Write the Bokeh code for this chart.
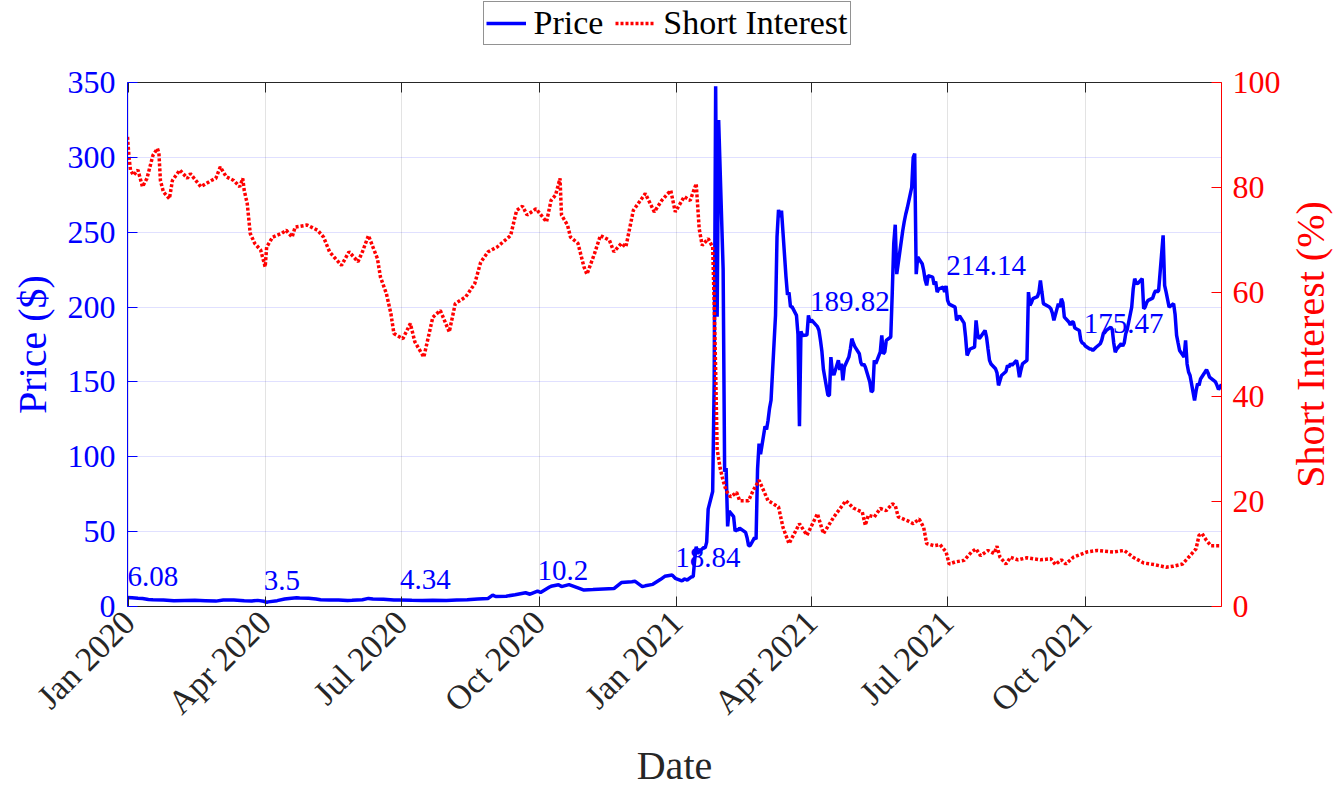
import pandas as pd
from math import pi
from bokeh.plotting import figure
from bokeh.layouts import column, row
from bokeh.models import (Range1d, LinearAxis, DatetimeAxis, FixedTicker,
                          DatetimeTickFormatter, Legend, LegendItem, Label)
from bokeh.embed import file_html
from bokeh.resources import INLINE
from bokeh.core.properties import value

FONT = "Liberation Serif"
START = "2019-12-31"          # day 0 of the day offsets below
END_DAY = 731                 # 2021-12-31

# ---- GME closing price ($), day offsets from START ----
price_day = [
    0, 3, 7, 10, 14, 17, 24, 31, 38, 45, 52, 59, 64, 71, 78, 83, 87, 91, 93, 94,
    100, 105, 108, 113, 115, 121, 126, 129, 135, 141, 147, 150, 157, 161, 164, 171, 178, 182,
    190, 197, 204, 213, 220, 227, 234, 241, 244, 246, 253, 259, 266, 269, 274, 276, 282, 283,
    288, 290, 295, 301, 305, 311, 318, 325, 330, 337, 339, 344, 346, 351, 356, 359, 364, 366,
    370, 371, 372, 373, 374, 377, 378, 379, 380, 381, 385, 386, 387, 388, 391, 392, 393, 394, 395,
    398, 399, 400, 401, 402, 405, 406, 407, 408, 409, 413, 414, 415, 416, 419, 420, 421, 422, 423,
    426, 427, 428, 429, 430, 433, 434, 435, 436, 437, 440, 441, 442, 443, 444, 447, 448, 449, 450,
    451, 454, 455, 456,
    457, 461, 462, 463, 464, 465, 468, 469, 470, 471, 472, 475, 476, 477, 478, 479, 482, 483, 484,
    485, 486, 489, 490, 491, 492, 493, 496, 497, 498, 499, 500, 503, 504, 505, 506, 507, 510, 511,
    512, 513, 514, 518, 519, 520, 521, 524, 525, 526, 527, 528, 531, 532, 533, 534, 535, 538, 539,
    540, 541, 542, 545, 546, 547,
    548, 549, 553, 554, 555, 556, 559, 560, 561, 562, 563, 566, 567, 568, 569, 570, 573, 574, 575,
    576, 577, 580, 581, 582, 583, 584, 587, 588, 589, 590, 591, 594, 595, 596, 597, 598, 601, 602,
    603, 604, 605, 608, 609, 610, 611, 612, 616, 617, 618, 619, 622, 623, 624, 625, 626, 629, 630,
    631, 632, 633, 636, 637, 638, 639,
    640, 643, 644, 645, 646, 647, 650, 651, 652, 653, 654, 657, 658, 659, 660, 661, 664, 665, 666,
    667, 668, 671, 672, 673, 674, 675, 678, 679, 680, 681, 682, 685, 686, 687, 688, 689, 692, 693,
    694, 696, 699, 700, 701, 702, 703, 706, 707, 708, 709, 710, 713, 714, 715, 716, 717, 720, 721,
    722, 723, 727, 728, 729, 730, 731,
]
price_usd = [
    6.08, 5.88, 5.52, 5.3, 4.65, 4.47, 4.35, 3.85, 4.08, 4.2, 3.9, 3.6, 4.4, 4.3, 3.8, 3.6, 4.1, 3.5, 2.8, 3.09,
    3.9, 5.0, 5.4, 5.9, 5.7, 5.5, 5.0, 4.5, 4.3, 4.4, 4.0, 4.1, 4.5, 5.4, 5.0, 4.9, 4.3, 4.34,
    4.1, 4.0, 4.25, 4.01, 4.3, 4.5, 5.0, 5.4, 7.65, 6.7, 6.9, 7.8, 9.2, 8.2, 10.2, 9.36, 13.03, 13.49,
    14.5, 13.31, 14.6, 12.5, 11.0, 11.3, 11.7, 12.0, 16.0, 16.6, 16.9, 13.3, 13.8, 14.8, 18.0, 20.15, 20.99, 18.84,
    17.25, 17.37, 18.36, 18.08, 17.69, 19.94, 19.95, 31.40, 39.91, 35.50, 39.36, 39.12, 43.03, 65.01, 76.79, 147.98, 347.51, 193.60, 325.00,
    225.00, 90.00, 92.41, 53.50, 63.77, 60.00, 50.31, 51.20, 51.10, 52.40, 49.51, 45.94, 40.69, 40.59, 46.00, 44.97, 91.71, 108.73, 101.74,
    120.40, 118.18, 124.18, 132.35, 137.74, 194.50, 246.90, 265.00, 260.00, 264.50, 220.14, 208.17, 209.81, 200.27, 200.27, 194.49, 181.75, 120.34, 183.75,
    181.00, 181.30, 194.46, 189.82,
    191.45, 186.95, 184.50, 177.97, 170.26, 158.36, 141.09, 140.99, 166.53, 156.44, 154.69, 164.4, 158.0, 162.2, 151.0, 160.0, 166.6, 172.0, 178.9,
    176.0, 173.6, 168.8, 163.0, 161.0, 162.0, 159.9, 150.0, 143.2, 144.3, 164.4, 162.2, 170.0, 181.1, 168.8, 170.0, 177.7, 180.01, 209.43,
    242.56, 255.0, 222.0, 251.0, 257.0, 262.0, 266.0, 280.0, 300.0, 302.56, 222.0, 233.4, 229.0, 224.5, 218.0, 214.5, 221.0, 220.0, 215.0,
    217.0, 210.0, 212.0, 213.4, 210.0, 214.14,
    204.5, 202.0, 200.0, 191.1, 193.0, 194.0, 189.3, 180.0, 167.7, 170.0, 172.0, 173.3, 191.1, 182.0, 178.9, 180.0, 184.4, 180.0, 172.0,
    164.4, 162.0, 158.8, 156.0, 147.7, 151.0, 154.3, 157.0, 161.0, 160.0, 162.2, 161.0, 164.4, 160.0, 153.2, 158.0, 162.0, 164.4, 210.0,
    201.1, 203.0, 205.6, 207.0, 210.0, 217.8, 210.0, 202.3, 200.0, 198.9, 196.0, 191.1, 202.3, 200.0, 205.6, 203.0, 193.3, 190.0, 188.0,
    190.0, 190.0, 186.0, 184.4, 177.7, 176.0, 175.47,
    174.0, 172.0, 172.0, 171.0, 172.0, 173.0, 175.5, 178.0, 182.2, 183.0, 184.4, 186.6, 185.0, 176.0, 169.9, 172.0, 175.5, 174.0, 176.0,
    182.2, 185.0, 200.0, 212.0, 219.0, 216.0, 215.6, 219.0, 198.9, 200.0, 203.0, 204.5, 206.0, 209.0, 211.1, 210.0, 211.1, 247.9, 214.5,
    210.0, 200.0, 202.3, 195.0, 181.1, 176.0, 171.0, 166.6, 177.7, 162.0, 156.6, 154.3, 137.6, 144.0, 148.8, 147.7, 152.0, 156.6, 158.2,
    156.0, 153.2, 150.0, 147.7, 145.0, 146.5, 148.39,
]

# ---- Short interest (% of float), day offsets from START ----
si_day = [
    0, 1, 2, 4, 7, 10, 13, 17, 20, 21,
    22, 24, 28, 30, 35, 40, 42, 49, 56, 59,
    62, 66, 71, 75, 77, 78, 80, 82, 85, 89,
    92, 93, 97, 103, 106, 110, 112, 120, 127, 131,
    135, 138, 143, 148, 154, 157, 161, 164, 167, 169,
    173, 176, 178, 184, 189, 192, 198, 204, 209, 215,
    219, 226, 232, 236, 241, 247, 256, 260, 264, 267,
    273, 280, 283, 286, 289, 290, 294, 296, 301, 305,
    307, 312, 316, 322, 325, 330, 333, 338, 346, 352,
    357, 363, 366, 372, 376, 380, 382, 384, 388, 391,
    392, 393, 394, 396, 398, 400, 403, 407, 409, 415,
    418, 422, 428, 435, 438, 442, 449, 454, 461, 465,
    472, 480, 485, 491, 493, 495, 499, 503, 507, 511,
    513, 515, 521, 525, 529, 532, 534, 539, 543, 547,
    549, 553, 559, 564, 567, 570, 575, 579, 581, 583,
    587, 590, 595, 601, 610, 617, 620, 624, 627, 632,
    641, 648, 659, 666, 672, 679, 686, 694, 699, 705,
    710, 714, 716, 718, 721, 724, 731,
]
si_pct = [
    89.6, 85.8, 83.3, 82.3, 83.3, 80.1, 81.7, 86.1, 87.4, 86.5,
    81.3, 79.1, 77.8, 81.3, 83.3, 81.7, 82.6, 80.1, 81.3, 81.7,
    83.9, 82.0, 81.3, 80.1, 81.7, 79.4, 76.9, 71.2, 69.3, 68.0,
    64.8, 68.6, 70.5, 71.2, 71.8, 70.5, 72.4, 72.8, 71.8, 70.5,
    67.7, 66.7, 65.1, 67.7, 65.8, 67.7, 70.8, 68.6, 66.4, 62.9,
    59.7, 55.9, 52.1, 51.1, 54.0, 50.5, 47.6, 55.2, 56.5, 52.4,
    57.8, 59.1, 61.6, 65.7, 67.7, 68.6, 70.8, 75.6, 76.4, 74.7,
    75.9, 73.4, 77.5, 78.5, 81.7, 74.7, 72.8, 70.5, 69.3, 64.8,
    63.4, 67.3, 70.8, 69.9, 67.7, 69.3, 68.6, 75.6, 78.8, 75.3,
    77.5, 79.4, 75.3, 78.2, 77.5, 80.7, 72.1, 68.9, 70.2, 68.6,
    58.0, 45.0, 30.0, 26.4, 24.0, 22.1, 20.9, 21.8, 20.2, 20.2,
    22.1, 24.1, 20.2, 19.0, 15.1, 12.0, 15.8, 13.6, 17.7, 13.9,
    17.1, 20.2, 18.8, 18.0, 15.5, 17.4, 17.1, 18.7, 18.3, 19.6,
    19.3, 17.1, 16.4, 15.8, 16.7, 15.1, 12.0, 11.6, 11.8, 10.4,
    8.1, 8.5, 8.8, 10.4, 11.0, 9.7, 10.7, 10.1, 11.5, 9.4,
    8.1, 9.4, 8.9, 9.3, 8.9, 9.1, 8.0, 8.9, 8.1, 9.4,
    10.4, 10.7, 10.4, 10.7, 9.4, 8.3, 8.0, 7.5, 7.7, 8.1,
    9.7, 11.0, 13.6, 13.9, 12.6, 11.6, 11.6,
]

# price labels at the quarter-end closes
annot_day = [0, 91, 182, 274, 366, 456, 547, 639, 731]

x_tick_dates = ["2020-01-01", "2020-04-01", "2020-07-01", "2020-10-01",
                "2021-01-01", "2021-04-01", "2021-07-01", "2021-10-01"]
left_ticks = [0, 50, 100, 150, 200, 250, 300, 350]
right_ticks = [0, 20, 40, 60, 80, 100]
series_names = ["Price", "Short Interest"]
right_title = "Short Interest (%)"

# ---------------------------------------------------------------
t0 = pd.Timestamp(START)
price_dt = list(t0 + pd.to_timedelta(price_day, unit="D"))
si_dt = list(t0 + pd.to_timedelta(si_day, unit="D"))
lookup = dict(zip(price_day, price_usd))
annot_dt = list(t0 + pd.to_timedelta(annot_day, unit="D"))
annot_val = [lookup[d] for d in annot_day]
annot_txt = ["{:g}".format(v) for v in annot_val]
tick_ms = [pd.Timestamp(d).value // 10**6 for d in x_tick_dates]

BLUE = "#0000FF"
RED = "#FF0000"
DARK = "#262626"
PRICE_STYLE = dict(line_color=BLUE, line_width=3.5)
SI_STYLE = dict(line_color=RED, line_width=3.5, line_dash="3 2")
FRAME_W, FRAME_H, TOP = 1094, 524, 36

# ================= main chart =================
p = figure(frame_width=FRAME_W, frame_height=FRAME_H, x_axis_type="datetime",
           output_backend="svg", toolbar_location=None,
           x_range=Range1d(t0, t0 + pd.Timedelta(days=END_DAY)),
           y_range=Range1d(0, 350),
           min_border_left=127, min_border_right=66,
           min_border_top=TOP, min_border_bottom=170)
p.outline_line_color = None
p.background_fill_color = "white"
p.border_fill_color = "white"
p.extra_y_ranges = {"si": Range1d(0, 100)}

# grid
p.xgrid.ticker = FixedTicker(ticks=tick_ms)
p.xgrid.grid_line_color = DARK
p.xgrid.grid_line_alpha = 0.13
p.ygrid.ticker = FixedTicker(ticks=left_ticks)
p.ygrid.grid_line_color = BLUE
p.ygrid.grid_line_alpha = 0.12

# data lines
p.line(price_dt, price_usd, **PRICE_STYLE)
p.line(si_dt, si_pct, y_range_name="si", **SI_STYLE)

p.text(x=annot_dt, y=annot_val, text=annot_txt, text_font=value(FONT),
       text_font_size="29px", text_color=BLUE, text_align="left",
       text_baseline="bottom", y_offset=-11)

# bottom axis
xa = p.xaxis[0]
xa.ticker = FixedTicker(ticks=tick_ms)
fmt = "%b %Y"
xa.formatter = DatetimeTickFormatter(years=fmt, months=fmt, days=fmt, hours=fmt,
                                     minutes=fmt, seconds=fmt)
xa.major_label_orientation = pi / 4
xa.major_label_text_font = FONT
xa.major_label_text_font_size = "34px"
xa.major_label_text_color = DARK
xa.major_label_standoff = 10
xa.axis_line_color = DARK
xa.major_tick_line_color = DARK
xa.major_tick_in = 10
xa.major_tick_out = 0
xa.minor_tick_line_color = None
xa.axis_label = "Date"
xa.axis_label_text_font = FONT
xa.axis_label_text_font_size = "40px"
xa.axis_label_text_font_style = "normal"
xa.axis_label_text_color = DARK
xa.axis_label_standoff = 6

# top box line with inward ticks (no labels)
ta = DatetimeAxis(ticker=FixedTicker(ticks=tick_ms))
ta.major_label_text_font_size = "0px"
ta.major_label_text_color = None
ta.major_label_standoff = 0
ta.axis_line_color = DARK
ta.major_tick_line_color = DARK
ta.major_tick_in = 10
ta.major_tick_out = 0
ta.minor_tick_line_color = None
p.add_layout(ta, "above")

# left axis
ya = p.yaxis[0]
ya.ticker = FixedTicker(ticks=left_ticks)
ya.major_label_text_font = FONT
ya.major_label_text_font_size = "32px"
ya.major_label_text_color = BLUE
ya.major_label_standoff = 12
ya.axis_line_color = BLUE
ya.major_tick_line_color = BLUE
ya.major_tick_in = 10
ya.major_tick_out = 0
ya.minor_tick_line_color = None
ya.axis_label = "Price ($)"
ya.axis_label_text_font = FONT
ya.axis_label_text_font_size = "40px"
ya.axis_label_text_font_style = "normal"
ya.axis_label_text_color = BLUE
ya.axis_label_standoff = 10

# right axis (its title is drawn in the narrow strip to the right)
ra = LinearAxis(y_range_name="si", ticker=FixedTicker(ticks=right_ticks))
ra.major_label_text_font = FONT
ra.major_label_text_font_size = "32px"
ra.major_label_text_color = RED
ra.major_label_standoff = 11
ra.axis_line_color = RED
ra.major_tick_line_color = RED
ra.major_tick_in = 10
ra.major_tick_out = 0
ra.minor_tick_line_color = None
p.add_layout(ra, "right")

# ================= right title strip (reads bottom-to-top) =================
rf = figure(frame_width=46, frame_height=FRAME_H, output_backend="svg",
            toolbar_location=None, x_axis_type=None, y_axis_type=None,
            min_border_left=0, min_border_right=0, min_border_top=TOP,
            min_border_bottom=0, x_range=Range1d(0, 1), y_range=Range1d(0, 1))
rf.outline_line_color = None
rf.background_fill_color = "white"
rf.border_fill_color = "white"
rf.add_layout(Label(x=23, y=FRAME_H / 2, x_units="screen", y_units="screen",
                    text=right_title, angle=pi / 2, text_align="center",
                    text_baseline="middle", text_color=RED, text_font=FONT,
                    text_font_size="40px"))

# ================= legend strip above the chart =================
lf = figure(width=1333, height=46, output_backend="svg", toolbar_location=None,
            x_axis_type=None, y_axis_type=None, min_border=0,
            x_range=Range1d(0, 1), y_range=Range1d(0, 1))
lf.outline_line_color = None
lf.background_fill_color = "white"
lf.border_fill_color = "white"
# invisible proxies (single point => nothing drawn) that give the legend its samples
k_price = lf.line(x=[-1], y=[-1], **PRICE_STYLE)
k_si = lf.line(x=[-1], y=[-1], **SI_STYLE)
leg = Legend(items=[LegendItem(label=series_names[0], renderers=[k_price]),
                    LegendItem(label=series_names[1], renderers=[k_si])],
             location="center", orientation="horizontal")
leg.label_text_font = FONT
leg.label_text_font_size = "34px"
leg.label_text_color = "black"
leg.glyph_width = 40
leg.glyph_height = 24
leg.label_standoff = 8
leg.spacing = 12
leg.padding = 2
leg.margin = 0
leg.border_line_color = DARK
leg.border_line_width = 1
leg.background_fill_color = "white"
leg.background_fill_alpha = 1
lf.add_layout(leg)

open("out.html", "w").write(file_html(column(lf, row(p, rf)), INLINE))
